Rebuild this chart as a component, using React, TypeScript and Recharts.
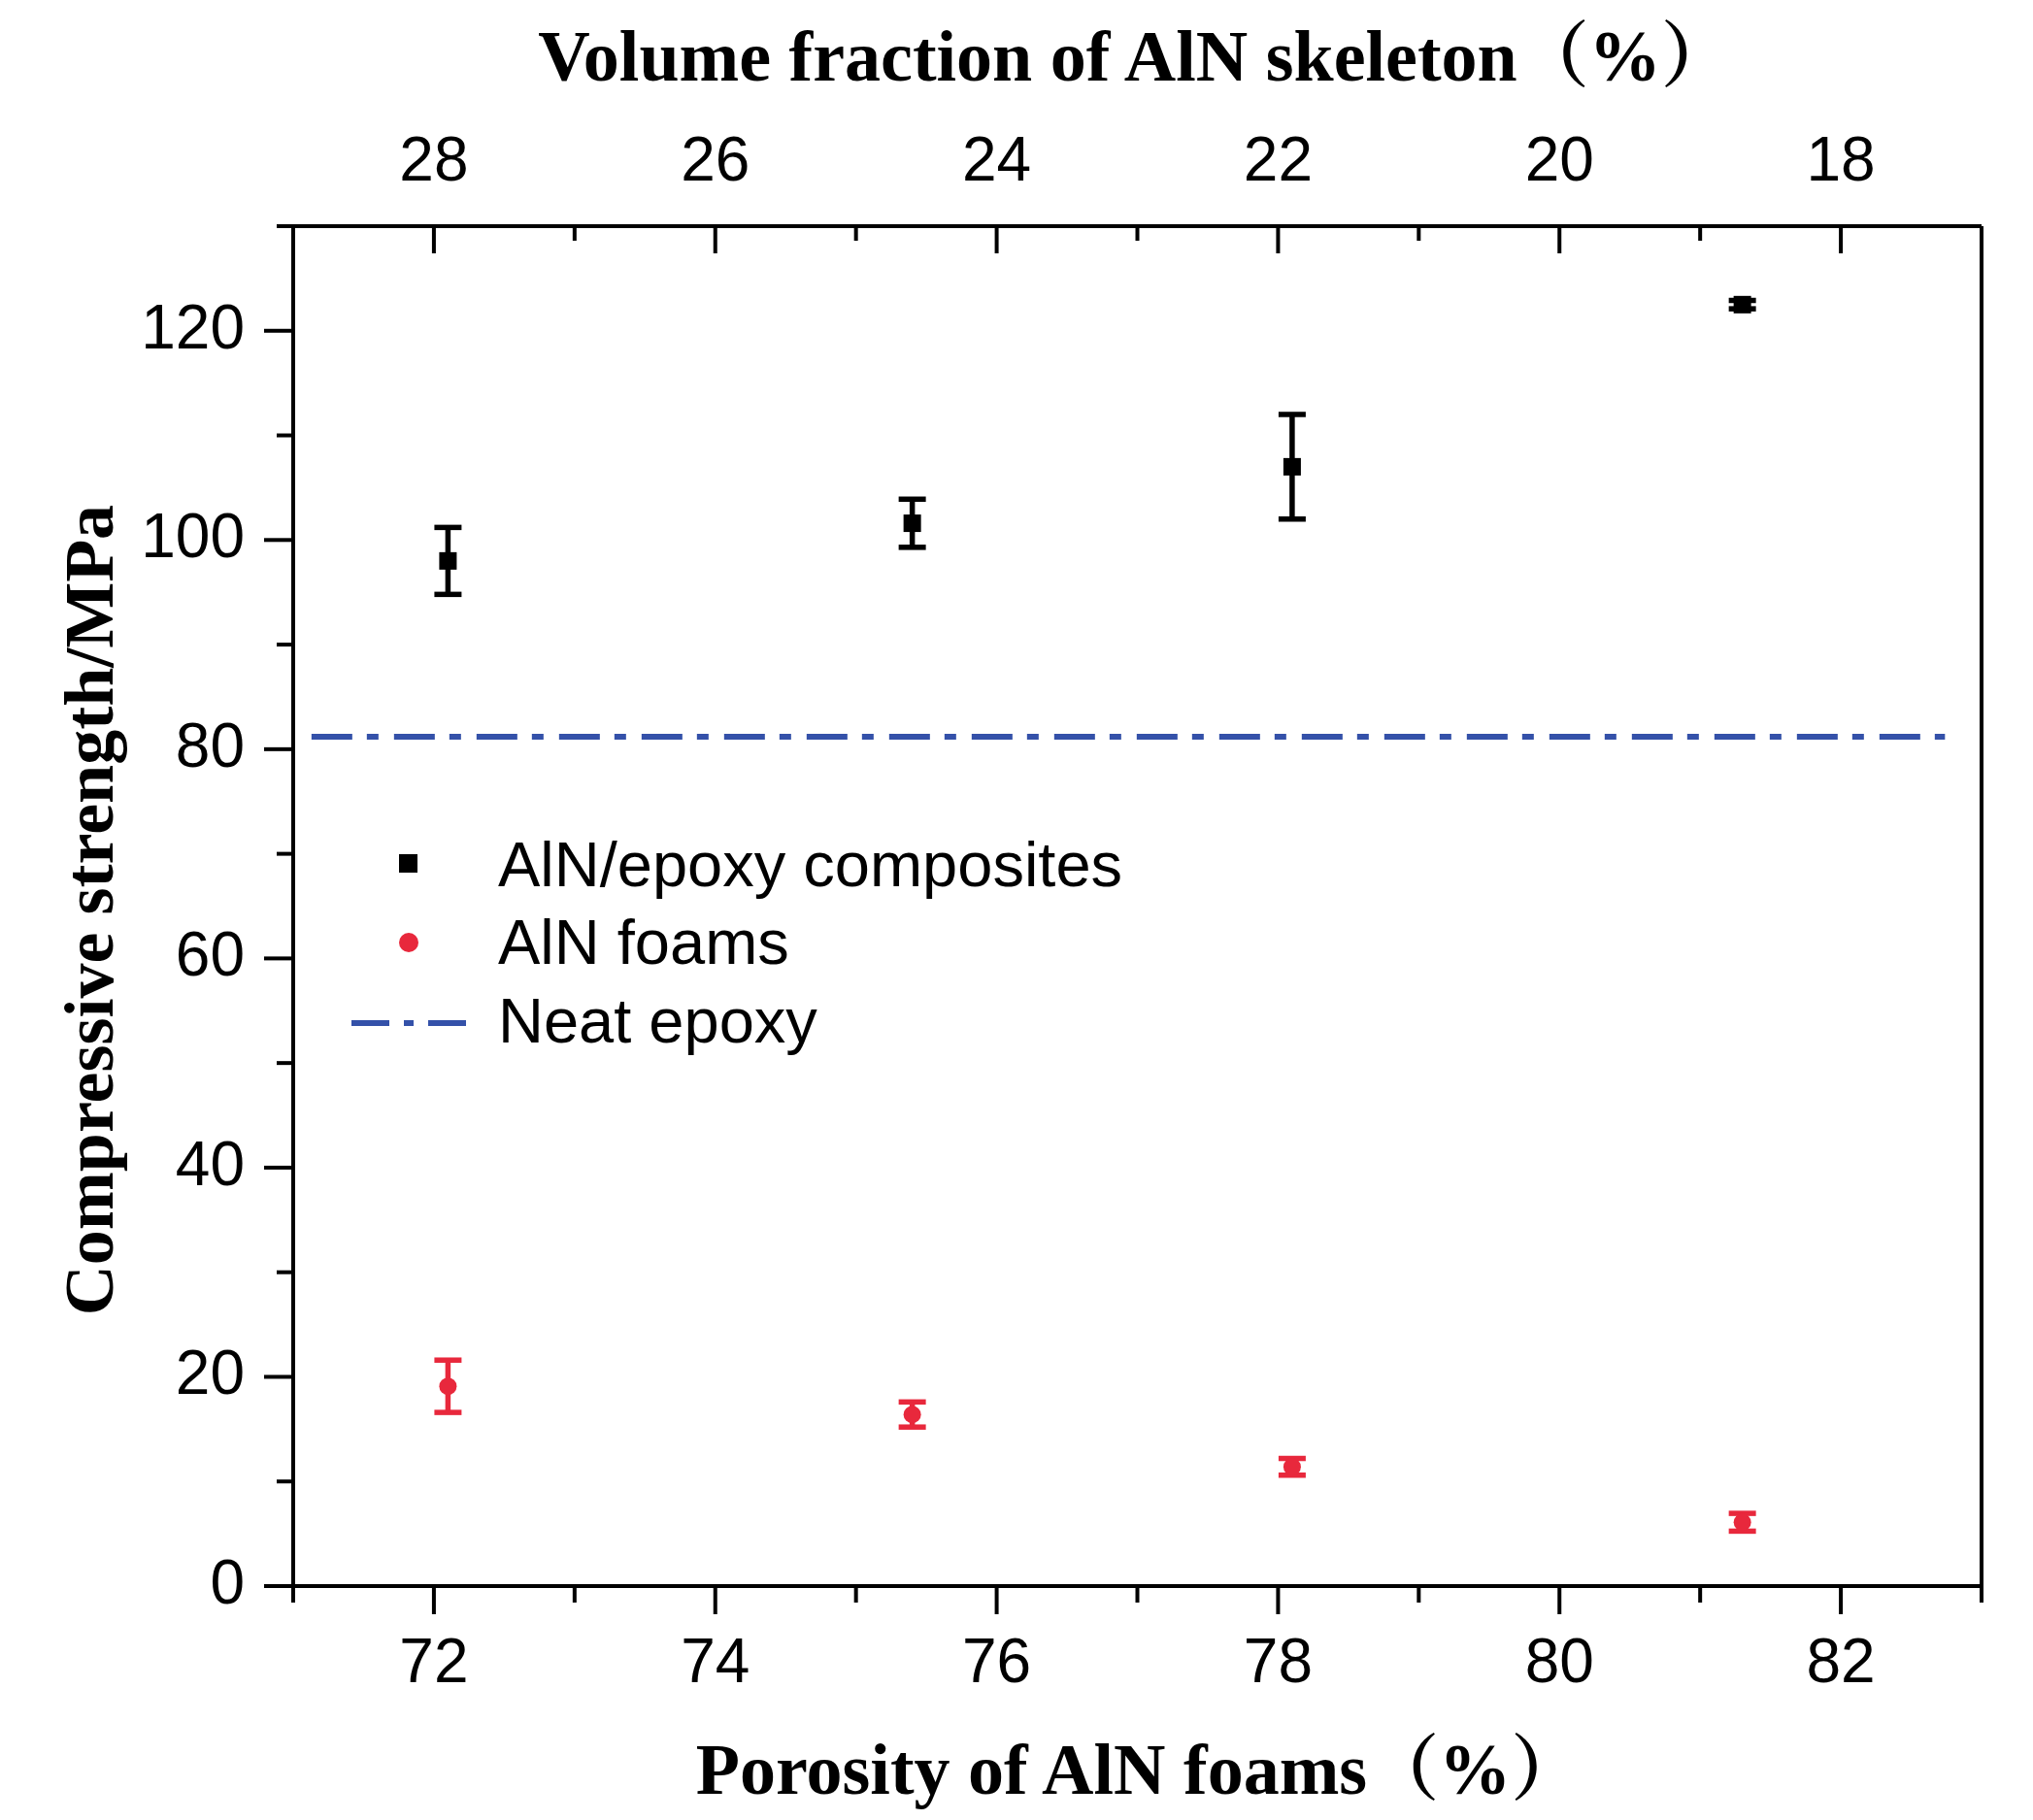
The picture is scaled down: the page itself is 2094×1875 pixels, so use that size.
import {
  ScatterChart,
  Scatter,
  XAxis,
  YAxis,
  ErrorBar,
  ReferenceLine,
  Legend,
  Label,
} from 'recharts';

// porosity of the foams (%), shared by both series
const porosity = [72.1, 75.4, 78.1, 81.3];
const compositeStrength = [98.0, 101.6, 107.0, 122.5];
const compositeError = [3.2, 2.3, 5.0, 0.4];
const foamStrength = [19.1, 16.4, 11.4, 6.1];
const foamError = [2.5, 1.2, 0.8, 0.85];
const neatEpoxyStrength = 81.2;
const neatEpoxySpan = [71.13, 82.74];

const xTicks = [71, 72, 73, 74, 75, 76, 77, 78, 79, 80, 81, 82, 83];
const xMajorTicks = [72, 74, 76, 78, 80, 82];
const topTicks = [72, 73, 74, 75, 76, 77, 78, 79, 80, 81, 82];
const yTicks = [0, 10, 20, 30, 40, 50, 60, 70, 80, 90, 100, 110, 120, 130];
const yMajorTicks = [0, 20, 40, 60, 80, 100, 120];
const legendLabels = ['AlN/epoxy composites', 'AlN foams', 'Neat epoxy'];

const RED = '#e8283c';
const BLUE = '#3451a9';
const SANS = '"Liberation Sans", Arial, sans-serif';
const SERIF = '"Liberation Serif", "Times New Roman", "Noto Serif CJK SC", "Noto Sans CJK SC", serif';
const DASH = '42 15 12 16';

const composites = porosity.map((x, i) => ({ x, y: compositeStrength[i], err: compositeError[i] }));
const foams = porosity.map((x, i) => ({ x, y: foamStrength[i], err: foamError[i] }));

function LeftTick({ x, y, payload }: any) {
  const major = yMajorTicks.includes(payload.value);
  return (
    <g>
      <line x1={x} x2={x - (major ? 30 : 17)} y1={y} y2={y} stroke="#000" strokeWidth={4} />
      {major && (
        <text x={x - 50} y={y + 18} textAnchor="end" fontSize={64} fontFamily={SANS} fill="#000">
          {payload.value}
        </text>
      )}
    </g>
  );
}

function BottomTick({ x, y, payload }: any) {
  const major = xMajorTicks.includes(payload.value);
  return (
    <g>
      <line x1={x} x2={x} y1={y} y2={y + (major ? 29 : 17)} stroke="#000" strokeWidth={4} />
      {major && (
        <text x={x} y={y + 99} textAnchor="middle" fontSize={64} fontFamily={SANS} fill="#000">
          {payload.value}
        </text>
      )}
    </g>
  );
}

// top axis: volume fraction of the skeleton = 100 - porosity, ticks point inward
function TopTick({ x, y, payload }: any) {
  const major = xMajorTicks.includes(payload.value);
  return (
    <g>
      <line x1={x} x2={x} y1={y} y2={y + (major ? 28 : 15)} stroke="#000" strokeWidth={4} />
      {major && (
        <text x={x} y={y - 47} textAnchor="middle" fontSize={64} fontFamily={SANS} fill="#000">
          {100 - payload.value}
        </text>
      )}
    </g>
  );
}

const SquareDot = (p: any) => <rect x={p.cx - 9} y={p.cy - 9} width={18} height={18} fill="#000" />;
const RoundDot = (p: any) => <circle cx={p.cx} cy={p.cy} r={9} fill={RED} />;
const NoDot = () => <g />;

function LegendBox() {
  return (
    <svg width={900} height={260} style={{ display: 'block' }}>
      <rect x={71} y={30} width={19} height={19} fill="#000" />
      <text x={173} y={63} fontSize={65} fontFamily={SANS} fill="#000">{legendLabels[0]}</text>
      <circle cx={81} cy={121} r={10} fill={RED} />
      <text x={173} y={143} fontSize={65} fontFamily={SANS} fill="#000">{legendLabels[1]}</text>
      <line x1={22} x2={143} y1={204} y2={204} stroke={BLUE} strokeWidth={6} strokeDasharray="39 15 10 15" />
      <text x={173} y={224} fontSize={65} fontFamily={SANS} fill="#000">{legendLabels[2]}</text>
    </svg>
  );
}

export default function App() {
  return (
    <ScatterChart
      width={2078}
      height={1859}
      margin={{ top: 165, right: 0, bottom: 173, left: 194 }}
      style={{ background: '#fff' }}
    >
      <XAxis
        type="number"
        dataKey="x"
        domain={[71, 83]}
        ticks={xTicks}
        interval={0}
        allowDataOverflow
        height={60}
        tickSize={0}
        tickMargin={0}
        tickLine={false}
        axisLine={{ stroke: '#000', strokeWidth: 4 }}
        tick={BottomTick}
      >
        <Label
          content={(props: any) => {
            const vb = props.viewBox;
            return (
              <text x={vb.x + vb.width / 2 + 2} y={vb.y + 214} textAnchor="middle" fontSize={74} fontWeight="bold" fontFamily={SERIF} fill="#000">
                Porosity of AlN foams（%）
              </text>
            );
          }}
        />
      </XAxis>
      <XAxis
        xAxisId="top"
        orientation="top"
        type="number"
        dataKey="x"
        domain={[71, 83]}
        ticks={topTicks}
        interval={0}
        allowDataOverflow
        height={60}
        tickSize={0}
        tickMargin={0}
        tickLine={false}
        axisLine={{ stroke: '#000', strokeWidth: 4 }}
        tick={TopTick}
      >
        <Label
          content={(props: any) => {
            const vb = props.viewBox;
            return (
              <text x={vb.x + vb.width / 2 - 2} y={vb.y + vb.height - 150} textAnchor="middle" fontSize={74} fontWeight="bold" fontFamily={SERIF} fill="#000">
                Volume fraction of AlN skeleton（%）
              </text>
            );
          }}
        />
      </XAxis>
      <YAxis
        type="number"
        dataKey="y"
        domain={[0, 130]}
        ticks={yTicks}
        interval={0}
        allowDataOverflow
        width={100}
        tickSize={0}
        tickMargin={0}
        tickLine={false}
        axisLine={{ stroke: '#000', strokeWidth: 4 }}
        tick={LeftTick}
      >
        <Label
          content={(props: any) => {
            const vb = props.viewBox;
            const tx = vb.x + vb.width - 186;
            const ty = vb.y + vb.height / 2 + 4;
            return (
              <text x={tx} y={ty} transform={`rotate(-90, ${tx}, ${ty})`} textAnchor="middle" fontSize={72} fontWeight="bold" fontFamily={SERIF} fill="#000">
                Compressive strength/MPa
              </text>
            );
          }}
        />
      </YAxis>
      <YAxis
        yAxisId="frame"
        orientation="right"
        type="number"
        dataKey="y"
        domain={[0, 130]}
        allowDataOverflow
        width={45}
        tick={false}
        tickLine={false}
        axisLine={{ stroke: '#000', strokeWidth: 4 }}
      />
      <ReferenceLine
        segment={[
          { x: neatEpoxySpan[0], y: neatEpoxyStrength },
          { x: neatEpoxySpan[1], y: neatEpoxyStrength },
        ]}
        stroke={BLUE}
        strokeWidth={6}
        strokeDasharray={DASH}
      />
      {/* invisible series so the top and right axes get a scale */}
      <Scatter xAxisId="top" yAxisId="frame" data={composites} shape={NoDot} legendType="none" isAnimationActive={false} />
      <Scatter name={legendLabels[0]} data={composites} fill="#000" shape={SquareDot} isAnimationActive={false}>
        <ErrorBar dataKey="err" direction="y" width={14} stroke="#000" strokeWidth={5.5} isAnimationActive={false} />
      </Scatter>
      <Scatter name={legendLabels[1]} data={foams} fill={RED} shape={RoundDot} isAnimationActive={false}>
        <ErrorBar dataKey="err" direction="y" width={14} stroke={RED} strokeWidth={5.5} isAnimationActive={false} />
      </Scatter>
      <Legend
        layout="vertical"
        align="center"
        verticalAlign="middle"
        wrapperStyle={{ left: 332, top: 842, width: 900, height: 260 }}
        content={() => <LegendBox />}
      />
    </ScatterChart>
  );
}
